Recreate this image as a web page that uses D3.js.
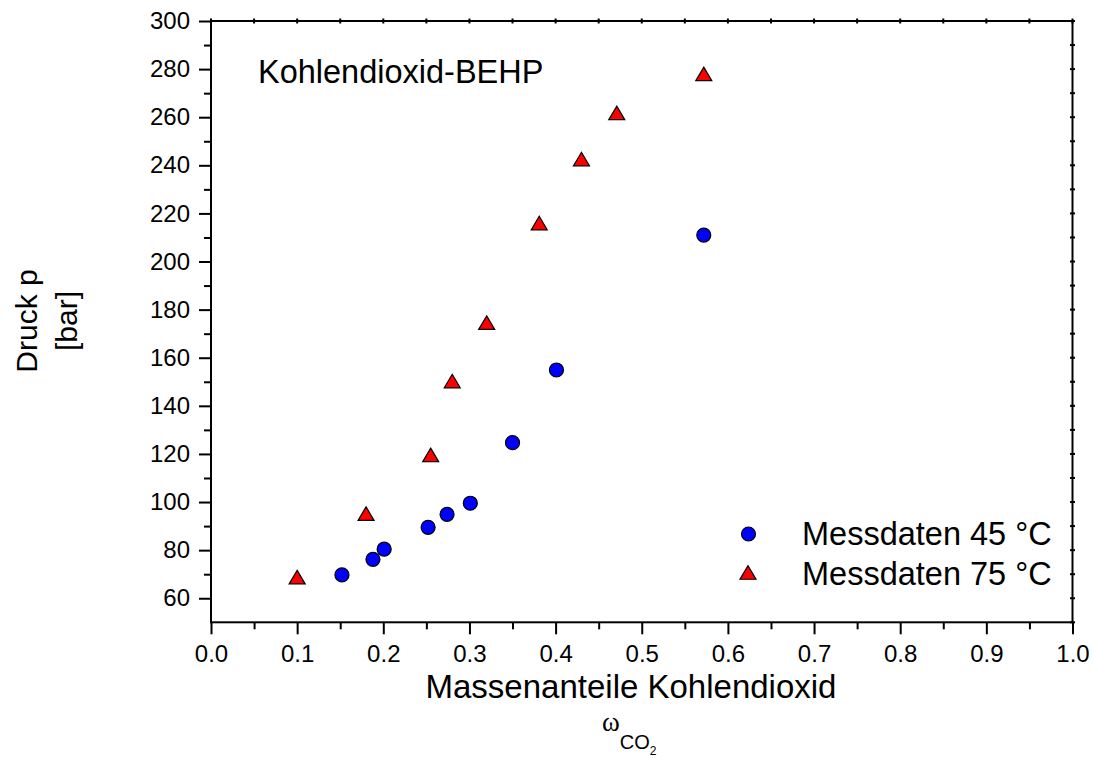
<!DOCTYPE html>
<html>
<head>
<meta charset="utf-8">
<script src="https://cdn.jsdelivr.net/npm/d3@7"></script>
<style>
  html, body { margin: 0; padding: 0; background: #fff; }
  svg { display: block; }
  text { font-family: Arial, "Liberation Sans", sans-serif; fill: #000; }
</style>
</head>
<body>
<svg id="chart" width="1093" height="758"></svg>
<script>
// Mass fraction of CO2 (x) and pressure in bar (y) for two isotherms
const x45 = [0.152, 0.188, 0.201, 0.252, 0.274, 0.301, 0.350, 0.401, 0.572];
const p45 = [69.7, 76.2, 80.4, 89.5, 94.9, 99.5, 124.7, 154.9, 211.0];
const x75 = [0.100, 0.180, 0.255, 0.280, 0.320, 0.381, 0.430, 0.471, 0.572];
const p75 = [68.8, 95.2, 119.6, 150.3, 174.6, 216.0, 242.6, 261.8, 278.0];

const xMajorTicks = [0, 0.1, 0.2, 0.3, 0.4, 0.5, 0.6, 0.7, 0.8, 0.9, 1.0];
const yMajorTicks = [60, 80, 100, 120, 140, 160, 180, 200, 220, 240, 260, 280, 300];
const legendLabels = ["Messdaten 45 °C", "Messdaten 75 °C"];
const chartTitle = "Kohlendioxid-BEHP";

const svg = d3.select("#chart");
const plotL = 211, plotR = 1072.5, plotT = 21, plotB = 622.3;

const x = d3.scaleLinear().domain([0, 1]).range([plotL, plotR]);
const y = d3.scaleLinear().domain([50, 300]).range([plotB, plotT]);

const xMinor = d3.range(0.05, 1, 0.1);
const yMinor = d3.range(70, 300, 20);
const xAll = d3.range(0, 1.0001, 0.05);
const yAll = d3.range(50, 300.001, 10);

// bottom axis: major with labels, minor without
const gxMaj = svg.append("g").attr("transform", `translate(0,${plotB})`)
  .call(d3.axisBottom(x).tickValues(xMajorTicks).tickSize(12).tickSizeOuter(0)
    .tickPadding(11).tickFormat(d3.format(".1f")));
const gxMin = svg.append("g").attr("transform", `translate(0,${plotB})`)
  .call(d3.axisBottom(x).tickValues(xMinor).tickSize(7).tickSizeOuter(0).tickFormat(""));

// left axis
const gyMaj = svg.append("g").attr("transform", `translate(${plotL},0)`)
  .call(d3.axisLeft(y).tickValues(yMajorTicks).tickSize(12).tickSizeOuter(0)
    .tickPadding(9).tickFormat(d3.format("d")));
const gyMin = svg.append("g").attr("transform", `translate(${plotL},0)`)
  .call(d3.axisLeft(y).tickValues(yMinor).tickSize(7).tickSizeOuter(0).tickFormat(""));

[gxMaj, gxMin, gyMaj, gyMin].forEach(g => {
  g.select(".domain").remove();
  g.selectAll(".tick line").attr("stroke", "#000").attr("stroke-width", 2);
  g.selectAll(".tick text").attr("font-size", 24).attr("font-family", "Arial, 'Liberation Sans', sans-serif").attr("fill", "#000");
});

// top and right axes carry small centred ticks
svg.append("g").selectAll("line").data(xAll).join("line")
  .attr("x1", d => x(d)).attr("x2", d => x(d))
  .attr("y1", plotT - 2.5).attr("y2", plotT + 2.5)
  .attr("stroke", "#000").attr("stroke-width", 2);
svg.append("g").selectAll("line").data(yAll).join("line")
  .attr("x1", plotR - 2.5).attr("x2", plotR + 2.5)
  .attr("y1", d => y(d)).attr("y2", d => y(d))
  .attr("stroke", "#000").attr("stroke-width", 2);

// frame
svg.append("rect")
  .attr("x", plotL).attr("y", plotT)
  .attr("width", plotR - plotL).attr("height", plotB - plotT)
  .attr("fill", "none").attr("stroke", "#000").attr("stroke-width", 2);

// triangle marker centred on its bounding box
function tri(cx, cy, w, h) {
  return `M${cx},${cy - h / 2}L${cx + w / 2},${cy + h / 2}L${cx - w / 2},${cy + h / 2}Z`;
}

const s45 = x45.map((v, i) => ({ x: v, p: p45[i] }));
const s75 = x75.map((v, i) => ({ x: v, p: p75[i] }));

svg.append("g").selectAll("path").data(s75).join("path")
  .attr("d", d => tri(x(d.x), y(d.p), 16, 13.5))
  .attr("fill", "#ff0000").attr("stroke", "#000").attr("stroke-width", 1.2)
  .attr("stroke-linejoin", "miter");

svg.append("g").selectAll("circle").data(s45).join("circle")
  .attr("cx", d => x(d.x)).attr("cy", d => y(d.p)).attr("r", 7)
  .attr("fill", "#0000ff").attr("stroke", "#000").attr("stroke-width", 1.2);

// chart title inside the plot
svg.append("text").attr("x", 258).attr("y", 83)
  .attr("font-size", 32.5).text(chartTitle);

// legend
const lg = svg.append("g");
lg.append("circle").attr("cx", 748.5).attr("cy", 534).attr("r", 7)
  .attr("fill", "#0000ff").attr("stroke", "#000").attr("stroke-width", 1.2);
lg.append("path").attr("d", tri(748, 572.5, 16, 13.5))
  .attr("fill", "#ff0000").attr("stroke", "#000").attr("stroke-width", 1.2);
lg.selectAll("text").data(legendLabels).join("text")
  .attr("x", 802).attr("y", (d, i) => 545 + i * 40)
  .attr("font-size", 32.5).text(d => d);

// axis titles
svg.append("text").attr("x", 631).attr("y", 698)
  .attr("text-anchor", "middle").attr("font-size", 33)
  .text("Massenanteile Kohlendioxid");

const sym = svg.append("text").attr("x", 602).attr("y", 731);
sym.append("tspan").attr("font-family", "'Times New Roman', 'Liberation Serif', serif")
  .attr("font-size", 27).text("ω");
sym.append("tspan").attr("font-size", 20).attr("dy", 18).text("CO");
sym.append("tspan").attr("font-size", 12).attr("dy", 6).text("2");

const yt = svg.append("text").attr("transform", "translate(37,321) rotate(-90)")
  .attr("text-anchor", "middle").attr("font-size", 30);
yt.append("tspan").attr("x", 0).attr("y", 0).text("Druck p");
yt.append("tspan").attr("x", 0).attr("y", 40).text("[bar]");
</script>
</body>
</html>
